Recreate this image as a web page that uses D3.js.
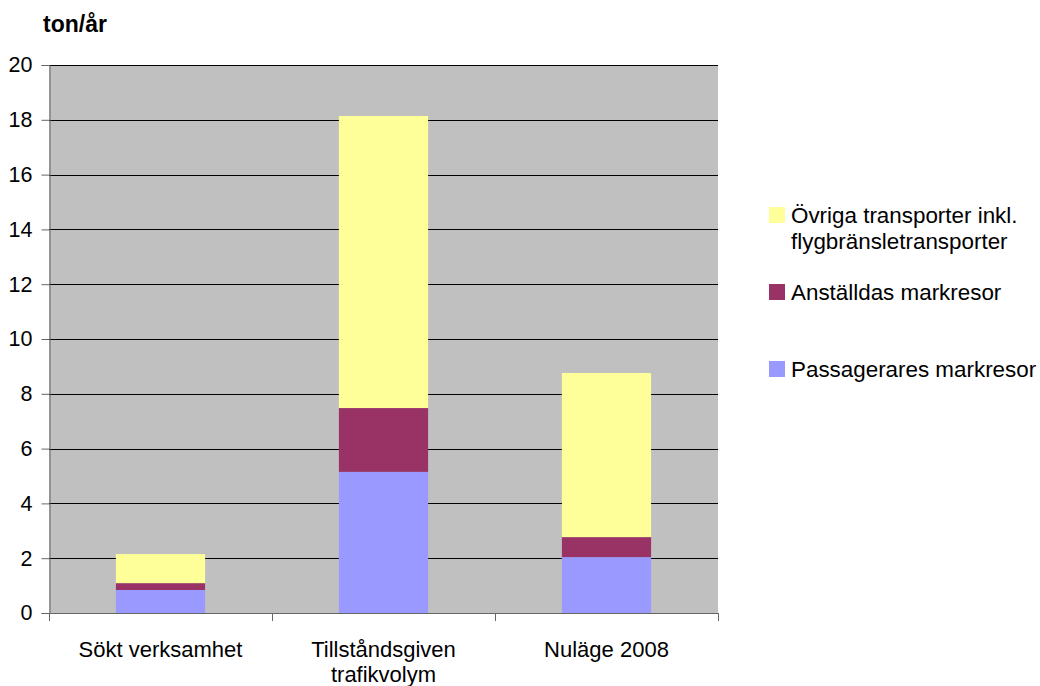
<!DOCTYPE html>
<html>
<head>
<meta charset="utf-8">
<script src="https://cdn.jsdelivr.net/npm/d3@7"></script>
<style>
  body { margin: 0; background: #fff; }
  svg { display: block; font-family: "Liberation Sans", Arial, sans-serif; }
</style>
</head>
<body>
<svg id="chart" width="1040" height="686"></svg>
<script>
// Utsläpp per verksamhetsfall (ton/år)
const categories = [["Sökt verksamhet"], ["Tillståndsgiven", "trafikvolym"], ["Nuläge 2008"]];
const passagerare = [0.84, 5.15, 2.04];
const anstallda = [0.25, 2.33, 0.73];
const ovriga = [1.06, 10.66, 5.99];
const seriesNames = ["Passagerares markresor", "Anställdas markresor", "Övriga transporter inkl.\nflygbränsletransporter"];
const seriesColors = ["#9999FF", "#993366", "#FFFF99"];
const yTicks = [0, 2, 4, 6, 8, 10, 12, 14, 16, 18, 20];

const svg = d3.select("#chart");
const plotL = 49, plotR = 718, plotT = 65, plotB = 613;
const tickFont = 21.5, catFont = 22, legendFont = 22.4;

const x = d3.scaleBand().domain(d3.range(categories.length)).range([plotL, plotR]).paddingInner(0).paddingOuter(0);
const y = d3.scaleLinear().domain([0, 20]).range([plotB, plotT]);

// Plot background
svg.append("rect").attr("x", plotL).attr("y", plotT)
  .attr("width", plotR - plotL).attr("height", plotB - plotT).attr("fill", "#C0C0C0");

// Horizontal gridlines
svg.append("g").selectAll("line").data(yTicks.filter(d => d > 0)).join("line")
  .attr("x1", plotL).attr("x2", plotR)
  .attr("y1", d => Math.round(y(d)) + 0.5).attr("y2", d => Math.round(y(d)) + 0.5)
  .attr("stroke", "#000").attr("stroke-width", 1);

// Stacked bars
const rows = categories.map((c, i) => ({ i, p: passagerare[i], a: anstallda[i], o: ovriga[i] }));
const stack = d3.stack().keys(["p", "a", "o"])(rows);
const barW = x.bandwidth() * 0.4;
svg.append("g").selectAll("g").data(stack).join("g")
  .attr("fill", (d, k) => seriesColors[k])
  .selectAll("rect").data(d => d).join("rect")
  .attr("x", d => x(d.data.i) + (x.bandwidth() - barW) / 2)
  .attr("width", barW)
  .attr("y", d => y(d[1]))
  .attr("height", d => y(d[0]) - y(d[1]));

// Y axis
const yAxis = svg.append("g").attr("transform", `translate(${plotL + 0.5},0)`)
  .call(d3.axisLeft(y).tickValues(yTicks).tickSize(8).tickPadding(9).tickFormat(d3.format("d")));
yAxis.select(".domain").attr("stroke", "#666");
yAxis.selectAll(".tick line").attr("stroke", "#666");
yAxis.selectAll(".tick text").attr("font-size", tickFont).attr("fill", "#000")
  .attr("font-family", "'Liberation Sans', Arial, sans-serif");

// X axis line and category boundary ticks
svg.append("line").attr("x1", plotL).attr("x2", plotR + 0.5)
  .attr("y1", plotB + 0.5).attr("y2", plotB + 0.5).attr("stroke", "#666");
const bounds = d3.range(categories.length + 1).map(k => plotL + k * x.bandwidth());
svg.append("g").selectAll("line").data(bounds).join("line")
  .attr("x1", d => Math.round(d) + 0.5).attr("x2", d => Math.round(d) + 0.5)
  .attr("y1", plotB).attr("y2", plotB + 8).attr("stroke", "#666");

// Category labels
svg.append("g").selectAll("text").data(categories).join("text")
  .attr("x", (d, i) => x(i) + x.bandwidth() / 2)
  .attr("y", 657)
  .attr("text-anchor", "middle").attr("font-size", catFont).attr("fill", "#000")
  .selectAll("tspan").data(d => d).join("tspan")
  .attr("x", function () { return d3.select(this.parentNode).attr("x"); })
  .attr("dy", (d, j) => j === 0 ? 0 : 25)
  .text(d => d);

// Unit label
svg.append("text").attr("x", 43).attr("y", 32).attr("font-size", 23)
  .attr("font-weight", "bold").attr("fill", "#000").text("ton/år");

// Legend (top to bottom: Övriga, Anställdas, Passagerares)
const legendY = [207, 284, 361];
const legendOrder = [2, 1, 0];
const lg = svg.append("g").selectAll("g").data(legendOrder).join("g")
  .attr("transform", (k, j) => `translate(769,${legendY[j]})`);
lg.append("rect").attr("width", 16).attr("height", 16).attr("fill", k => seriesColors[k]);
lg.append("text").attr("x", 22).attr("y", 15.5).attr("font-size", legendFont).attr("fill", "#000")
  .selectAll("tspan").data(k => seriesNames[k].split("\n")).join("tspan")
  .attr("x", 22).attr("dy", (d, j) => j === 0 ? 0 : 26).text(d => d);
</script>
</body>
</html>
